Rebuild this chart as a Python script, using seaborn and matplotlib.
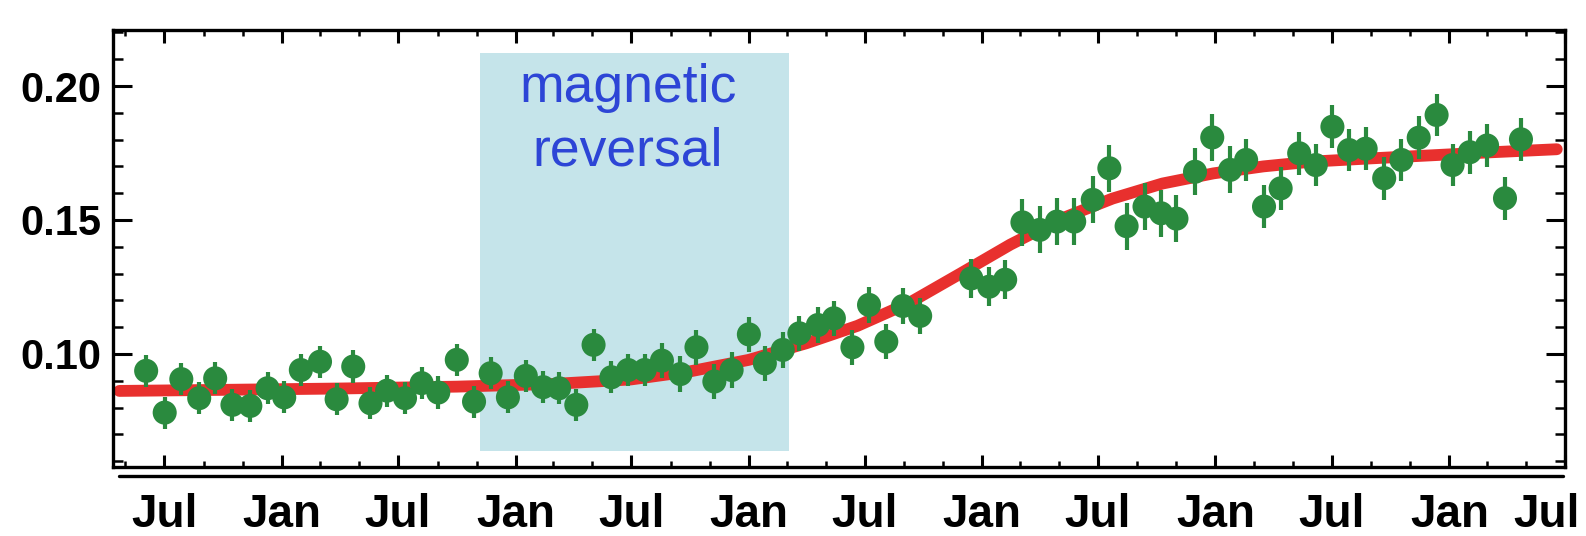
import pandas as pd
import matplotlib
matplotlib.use("Agg")
import matplotlib.pyplot as plt
import matplotlib.dates as mdates
from matplotlib.ticker import FixedLocator, MultipleLocator, FormatStrFormatter
from matplotlib.transforms import ScaledTranslation
import seaborn as sns

# Ratio measured per Bartels rotation (date, value, uncertainty)
obs_dates = [
    "2011-06-03", "2011-07-02", "2011-07-28", "2011-08-25", "2011-09-19", "2011-10-16", "2011-11-13", "2011-12-10", "2012-01-05", "2012-01-31",
    "2012-03-01", "2012-03-27", "2012-04-22", "2012-05-19", "2012-06-14", "2012-07-12", "2012-08-07", "2012-09-02", "2012-10-01", "2012-10-28",
    "2012-11-23", "2012-12-20", "2013-01-17", "2013-02-13", "2013-03-10", "2013-04-06", "2013-05-03", "2013-05-31", "2013-06-26", "2013-07-22",
    "2013-08-18", "2013-09-16", "2013-10-11", "2013-11-08", "2013-12-05", "2014-01-01", "2014-01-26", "2014-02-23", "2014-03-21", "2014-04-19",
    "2014-05-14", "2014-06-12", "2014-07-08", "2014-08-04", "2014-08-30", "2014-09-26", "2014-12-15", "2015-01-12", "2015-02-06", "2015-03-05",
    "2015-04-01", "2015-04-28", "2015-05-25", "2015-06-23", "2015-07-19", "2015-08-15", "2015-09-12", "2015-10-08", "2015-11-01", "2015-11-30",
    "2015-12-27", "2016-01-24", "2016-02-18", "2016-03-17", "2016-04-12", "2016-05-11", "2016-06-06", "2016-07-02", "2016-07-28", "2016-08-23",
    "2016-09-21", "2016-10-18", "2016-11-14", "2016-12-12", "2017-01-06", "2017-02-02", "2017-03-01", "2017-03-29", "2017-04-23",
]
obs_ratio = [
    0.0937, 0.0781, 0.0906, 0.0835, 0.0909, 0.0810, 0.0806, 0.0872, 0.0838, 0.0940,
    0.0971, 0.0831, 0.0953, 0.0816, 0.0863, 0.0835, 0.0891, 0.0856, 0.0978, 0.0822,
    0.0928, 0.0838, 0.0918, 0.0876, 0.0872, 0.0810, 0.1034, 0.0913, 0.0940, 0.0940,
    0.0975, 0.0925, 0.1025, 0.0897, 0.0940, 0.1073, 0.0965, 0.1015, 0.1077, 0.1108,
    0.1133, 0.1025, 0.1183, 0.1046, 0.1179, 0.1142, 0.1282, 0.1251, 0.1277, 0.1491,
    0.1463, 0.1494, 0.1494, 0.1575, 0.1693, 0.1477, 0.1550, 0.1525, 0.1505, 0.1680,
    0.1808, 0.1687, 0.1724, 0.1550, 0.1618, 0.1749, 0.1705, 0.1848, 0.1761, 0.1766,
    0.1656, 0.1724, 0.1807, 0.1892, 0.1705, 0.1753, 0.1778, 0.1581, 0.1801,
]
obs_error = [
    0.0060, 0.0060, 0.0060, 0.0060, 0.0060, 0.0060, 0.0060, 0.0060, 0.0060, 0.0060,
    0.0060, 0.0060, 0.0060, 0.0060, 0.0060, 0.0060, 0.0060, 0.0060, 0.0060, 0.0060,
    0.0060, 0.0060, 0.0060, 0.0060, 0.0060, 0.0060, 0.0060, 0.0060, 0.0060, 0.0060,
    0.0066, 0.0066, 0.0066, 0.0066, 0.0066, 0.0066, 0.0066, 0.0066, 0.0066, 0.0066,
    0.0066, 0.0066, 0.0066, 0.0066, 0.0066, 0.0066, 0.0072, 0.0072, 0.0072, 0.0088,
    0.0088, 0.0088, 0.0088, 0.0088, 0.0088, 0.0088, 0.0088, 0.0088, 0.0088, 0.0088,
    0.0088, 0.0088, 0.0080, 0.0080, 0.0080, 0.0080, 0.0080, 0.0080, 0.0080, 0.0080,
    0.0080, 0.0080, 0.0080, 0.0080, 0.0080, 0.0080, 0.0080, 0.0080, 0.0080,
]

# Smooth fit through the measurements
fit_dates = [
    "2011-04-22", "2011-10-01", "2012-04-01", "2012-10-01", "2013-03-01", "2013-07-01",
    "2013-10-01", "2014-01-01", "2014-04-01", "2014-06-20", "2014-09-10", "2014-11-28",
    "2015-02-14", "2015-05-05", "2015-07-24", "2015-10-10", "2015-12-29", "2016-03-16",
    "2016-06-01", "2016-09-01", "2016-12-01", "2017-03-01", "2017-06-18",
]
fit_ratio = [
    0.0862, 0.0866, 0.0871, 0.0878, 0.0888, 0.0905,
    0.0935, 0.0978, 0.1040, 0.1105, 0.1192, 0.1300,
    0.1408, 0.1505, 0.1580, 0.1636, 0.1674, 0.1700,
    0.1718, 0.1730, 0.1741, 0.1752, 0.1764,
]

# Period of the solar magnetic field reversal
reversal_start = "2012-11-06"
reversal_end = "2014-03-04"
reversal_label = ["magnetic", "reversal"]

y_major = [0.10, 0.15, 0.20]

GREEN = "#2a8a3e"
RED = "#e8302e"
SPAN = "#c5e4ea"
LABEL_BLUE = "#2d45d6"

sns.set_style("ticks")
plt.rcParams["font.family"] = ["Liberation Sans", "DejaVu Sans"]

obs = pd.DataFrame({"date": pd.to_datetime(obs_dates), "ratio": obs_ratio, "err": obs_error})
fit = pd.DataFrame({"date": pd.to_datetime(fit_dates), "ratio": fit_ratio})

fig = plt.figure(figsize=(15.86, 5.36), dpi=100)
ax = fig.add_axes([0.0712, 0.1287, 0.9156, 0.8153])

ax.axvspan(pd.Timestamp(reversal_start), pd.Timestamp(reversal_end),
           ymin=0.036, ymax=0.948, color=SPAN, lw=0, zorder=0)

sns.lineplot(data=fit, x="date", y="ratio", ax=ax, color=RED, linewidth=8.5,
             solid_joinstyle="round", zorder=2)

ax.errorbar(obs["date"], obs["ratio"], yerr=obs["err"], fmt="none",
            ecolor=GREEN, elinewidth=3.0, capsize=0, zorder=3)
sns.scatterplot(data=obs, x="date", y="ratio", ax=ax, s=300, color=GREEN,
                edgecolor="none", linewidth=0, zorder=4)

mid = mdates.date2num(pd.Timestamp("2013-06-26"))
ax.text(mid, 0.1940, reversal_label[0], ha="center", va="baseline",
        fontsize=38.5, color=LABEL_BLUE, zorder=5)
ax.text(mid, 0.1705, reversal_label[1], ha="center", va="baseline",
        fontsize=38.5, color=LABEL_BLUE, zorder=5)

ax.set_xlim(pd.Timestamp("2011-04-12"), pd.Timestamp("2017-07-01"))
ax.set_ylim(0.0578, 0.2209)

ax.xaxis.set_major_locator(mdates.MonthLocator(bymonth=(1, 7)))
ax.xaxis.set_major_formatter(mdates.DateFormatter("%b"))
ax.xaxis.set_minor_locator(mdates.MonthLocator(bymonth=(1, 3, 5, 7, 9, 11)))
ax.yaxis.set_major_locator(FixedLocator(y_major))
ax.yaxis.set_major_formatter(FormatStrFormatter("%.2f"))
ax.yaxis.set_minor_locator(MultipleLocator(0.01))

ax.set_xlabel("")
ax.set_ylabel("")

ax.tick_params(axis="both", which="both", direction="in", colors="black")
ax.tick_params(axis="x", which="major", length=9, width=2.2, top=True, bottom=True,
               labelsize=33, pad=19)
ax.tick_params(axis="x", which="minor", length=4, width=1.8, top=True, bottom=True)
ax.tick_params(axis="y", which="major", length=14, width=2.2, left=True, right=True,
               labelsize=30, pad=8)
ax.tick_params(axis="y", which="minor", length=7, width=1.8, left=True, right=True)

for side in ["left", "right", "top", "bottom"]:
    ax.spines[side].set_visible(True)
    ax.spines[side].set_color("black")
    ax.spines[side].set_linewidth(2.4)

# second rule just under the time axis
ax.plot([0.004, 0.9985], [-0.021, -0.021], transform=ax.transAxes,
        color="black", lw=2.4, clip_on=False, zorder=6)

fig.canvas.draw()
for lab in ax.get_xticklabels() + ax.get_yticklabels():
    lab.set_fontweight("bold")

# keep the month label at the right edge inside the figure
end_loc = mdates.date2num(pd.Timestamp("2017-07-01"))
for tick in ax.xaxis.get_major_ticks():
    if abs(tick.get_loc() - end_loc) < 1:
        tick.label1.set_transform(tick.label1.get_transform()
                                  + ScaledTranslation(-0.19, 0, fig.dpi_scale_trans))

fig.savefig("out.png", dpi=100, facecolor="white")
